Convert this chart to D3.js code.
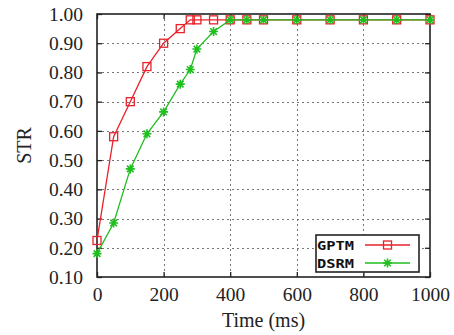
<!DOCTYPE html>
<html>
<head>
<meta charset="utf-8">
<script src="https://cdn.jsdelivr.net/npm/d3@7"></script>
<style>
	body { margin: 0; background: #fff; }
	svg { display: block; }
</style>
</head>
<body>
<div id="chart"></div>
<script>
// data
const timeGPTM = [0, 50, 100, 150, 200, 250, 280, 300, 350, 400, 450, 500, 600, 700, 800, 900, 1000];
const strGPTM = [0.225, 0.58, 0.70, 0.82, 0.90, 0.95, 0.98, 0.98, 0.98, 0.98, 0.98, 0.98, 0.98, 0.98, 0.98, 0.98, 0.98];
const timeDSRM = [0, 50, 100, 150, 200, 250, 280, 300, 350, 400, 450, 500, 600, 700, 800, 900, 1000];
const strDSRM = [0.18, 0.285, 0.47, 0.59, 0.665, 0.76, 0.81, 0.88, 0.94, 0.98, 0.98, 0.98, 0.98, 0.98, 0.98, 0.98, 0.98];
const xTicks = [0, 200, 400, 600, 800, 1000];
const yTicks = [0.1, 0.2, 0.3, 0.4, 0.5, 0.6, 0.7, 0.8, 0.9, 1.0];
const seriesNames = ['GPTM', 'DSRM'];
const seriesColors = ['#e8212a', '#1fbf1f'];

// dimension stuff
const width = 454;
const height = 335;
const marginTop = 14;
const marginBottom = 58;
const marginLeft = 97;
const marginRight = 24;
const innerW = width - marginLeft - marginRight;
const innerH = height - marginTop - marginBottom;

const scaleX = d3.scaleLinear().domain([0, 1000]).range([0, innerW]);
const scaleY = d3.scaleLinear().domain([0.1, 1.0]).range([innerH, 0]);

const serif = 'Liberation Serif';

const $svg = d3.select('#chart').append('svg')
	.attr('width', width)
	.attr('height', height);

const $g = $svg.append('g')
	.attr('transform', `translate(${marginLeft}, ${marginTop})`);

// grid, dotted grey, one path snapped to the pixel grid
const snap = v => Math.round(v) + 0.5;
const gridPath = d3.path();
xTicks.slice(1, -1).forEach(t => {
	gridPath.moveTo(snap(scaleX(t)), 0);
	gridPath.lineTo(snap(scaleX(t)), innerH);
});
yTicks.slice(1, -1).forEach(t => {
	gridPath.moveTo(0, snap(scaleY(t)));
	gridPath.lineTo(innerW, snap(scaleY(t)));
});

$g.append('path')
	.attr('class', 'g-grid')
	.attr('d', gridPath.toString())
	.attr('fill', 'none')
	.attr('stroke', '#777')
	.attr('stroke-width', 1)
	.attr('stroke-dasharray', '2,3');

// axes with inward ticks
const axisStyle = $a => {
	$a.attr('font-family', serif).attr('font-size', 19.5);
	$a.select('.domain').remove();
	$a.selectAll('.tick line').attr('stroke', '#222').attr('stroke-width', 1.3);
	$a.selectAll('.tick text').attr('fill', '#222');
};

$g.append('g')
	.attr('transform', `translate(0, ${innerH})`)
	.call(d3.axisBottom(scaleX).tickValues(xTicks).tickSizeInner(-5).tickSizeOuter(0).tickPadding(10).tickFormat(d3.format('d')))
	.call(axisStyle);

$g.append('g')
	.call(d3.axisTop(scaleX).tickValues(xTicks).tickSizeInner(-5).tickSizeOuter(0).tickFormat(''))
	.call(axisStyle);

$g.append('g')
	.call(d3.axisLeft(scaleY).tickValues(yTicks).tickSizeInner(-5).tickSizeOuter(0).tickPadding(14).tickFormat(d3.format('.2f')))
	.call(axisStyle);

$g.append('g')
	.attr('transform', `translate(${innerW}, 0)`)
	.call(d3.axisRight(scaleY).tickValues(yTicks).tickSizeInner(-5).tickSizeOuter(0).tickFormat(''))
	.call(axisStyle);

// frame
$g.append('rect')
	.attr('width', innerW)
	.attr('height', innerH)
	.attr('fill', 'none')
	.attr('stroke', '#222')
	.attr('stroke-width', 1.6);

// axis titles
$svg.append('text')
	.attr('x', marginLeft + innerW / 2)
	.attr('y', 327)
	.attr('text-anchor', 'middle')
	.attr('font-family', serif)
	.attr('font-size', 20)
	.attr('fill', '#222')
	.text('Time (ms)');

$svg.append('text')
	.attr('transform', `translate(31, ${marginTop + innerH / 2}) rotate(-90)`)
	.attr('text-anchor', 'middle')
	.attr('font-family', serif)
	.attr('font-size', 20)
	.attr('fill', '#222')
	.text('STR');

// markers
const drawSquare = ($p, color) => $p.append('rect')
	.attr('x', -4).attr('y', -4).attr('width', 8).attr('height', 8)
	.attr('fill', 'none').attr('stroke', color).attr('stroke-width', 1.3);

const drawStar = ($p, color) => $p.append('path')
	.attr('d', 'M-4.5,0H4.5M0,-4.5V4.5M-3.3,-3.3L3.3,3.3M-3.3,3.3L3.3,-3.3')
	.attr('stroke', color).attr('stroke-width', 1.6);

const line = d3.line()
	.x(d => scaleX(d[0]))
	.y(d => scaleY(d[1]));

const series = [
	{ name: seriesNames[0], color: seriesColors[0], pts: d3.zip(timeGPTM, strGPTM), marker: drawSquare },
	{ name: seriesNames[1], color: seriesColors[1], pts: d3.zip(timeDSRM, strDSRM), marker: drawStar }
];

const $vis = $g.append('g').attr('class', 'g-vis');

series.forEach(s => {
	$vis.append('path')
		.attr('d', line(s.pts))
		.attr('fill', 'none')
		.attr('stroke', s.color)
		.attr('stroke-width', 1.3);

	$vis.selectAll(null)
		.data(s.pts)
		.enter()
		.append('g')
		.attr('transform', d => `translate(${scaleX(d[0])}, ${scaleY(d[1])})`)
		.each(function() { s.marker(d3.select(this), s.color); });
});

// legend
const $legend = $svg.append('g').attr('transform', 'translate(316, 235)');

$legend.append('rect')
	.attr('width', 103)
	.attr('height', 37)
	.attr('fill', '#fff')
	.attr('stroke', '#222')
	.attr('stroke-width', 1.6);

series.forEach((s, i) => {
	const y = 10 + i * 18;
	$legend.append('text')
		.attr('x', 1)
		.attr('y', y + 5)
		.attr('textLength', 37)
		.attr('lengthAdjust', 'spacingAndGlyphs')
		.attr('font-family', 'DejaVu Sans Mono')
		.attr('font-weight', 'bold')
		.attr('font-size', 13)
		.attr('fill', '#111')
		.text(s.name);

	$legend.append('line')
		.attr('x1', 49).attr('x2', 94)
		.attr('y1', y).attr('y2', y)
		.attr('stroke', s.color)
		.attr('stroke-width', 1.3);

	const $m = $legend.append('g').attr('transform', `translate(71.5, ${y})`);
	s.marker($m, s.color);
});
</script>
</body>
</html>
